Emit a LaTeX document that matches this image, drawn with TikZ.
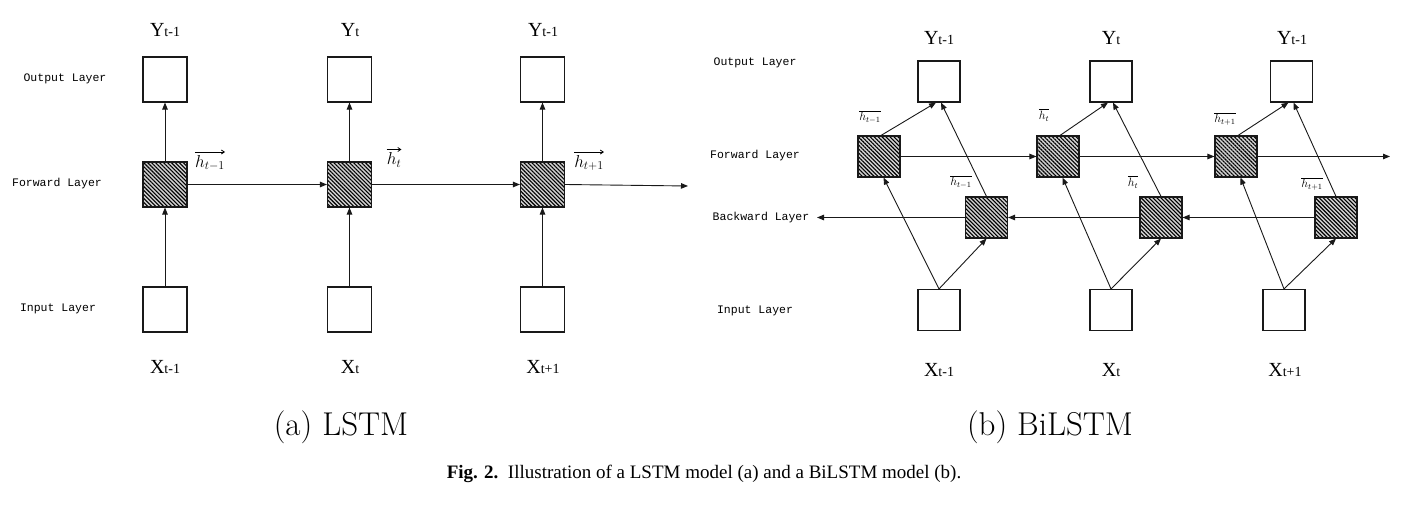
\documentclass[tikz,border=0pt]{standalone}
\usepackage{fontspec}
\newfontfamily\simfont{Liberation Serif}
\newfontfamily\layfont{Liberation Mono}
\newfontfamily\capfont{Liberation Serif}
\usetikzlibrary{arrows.meta,patterns.meta}
\newcommand\seqlab[2]{{\fontsize{20}{20}\selectfont #1}{\fontsize{14}{14}\selectfont #2}}
\tikzset{
  cell/.style={draw=black!90, line width=1.1pt, minimum width=44pt, minimum height=45pt, inner sep=0pt, fill=white},
  rcell/.style={cell, minimum width=42pt, minimum height=41pt},
  hatch/.style={preaction={fill=gray!35}, pattern={Lines[angle=-45,distance=2.8pt,line width=1.1pt]}},
  arr/.style={-{Triangle[length=7pt,width=5.5pt]}, line width=0.9pt, draw=black!90},
  vecarr/.style={-{Straight Barb[length=3pt,width=4pt]}, line width=0.8pt},
  seq/.style={font=\simfont, inner sep=0pt},
  layer/.style={font=\layfont\fontsize{11.5}{12}\selectfont, inner sep=0pt},
  hl/.style={inner sep=0pt, font=\fontsize{18}{18}\selectfont},
  hs/.style={inner sep=0pt, font=\fontsize{12}{12}\selectfont},
  sub/.style={inner sep=0pt, font=\fontsize{33}{40}\selectfont},
}
\begin{document}
\begin{tikzpicture}[x=1pt,y=-1pt]
\path[use as bounding box, fill=white] (0,0) rectangle (1414,510);

% ---------------- (a) LSTM ----------------
\node[cell] (ao1) at (165,79.5) {};
\node[cell] (ao2) at (349.5,79.5) {};
\node[cell] (ao3) at (542.5,79.5) {};
\node[cell,hatch] (af1) at (165,184.5) {};
\node[cell,hatch] (af2) at (349.5,184.5) {};
\node[cell,hatch] (af3) at (542.5,184.5) {};
\node[cell] (ai1) at (165,309.5) {};
\node[cell] (ai2) at (349.5,309.5) {};
\node[cell] (ai3) at (542.5,309.5) {};
\coordinate (aend) at (688,186);

\node[seq] (ay1) at (165,30) {\seqlab{Y}{t-1}};
\node[seq] (ay2) at (350,30) {\seqlab{Y}{t}};
\node[seq] (ay3) at (543,30) {\seqlab{Y}{t-1}};
\node[seq] (ax1) at (165,367) {\seqlab{X}{t-1}};
\node[seq] (ax2) at (350,367) {\seqlab{X}{t}};
\node[seq] (ax3) at (543,367) {\seqlab{X}{t+1}};

\node[layer] (alo) at (65,79) {Output Layer};
\node[layer] (alf) at (57,184) {Forward Layer};
\node[layer] (ali) at (58,309) {Input Layer};

\node[hl] (ah1) at (210,163) {$h_{t-1}$};
\node[hl] (ah2) at (394,160) {$h_{t}$};
\node[hl] (ah3) at (589,163) {$h_{t+1}$};
\foreach \n in {ah1,ah2,ah3}{
  \draw[vecarr] ([yshift=3pt]\n.north west) -- ([yshift=3pt]\n.north east);
}

\foreach \i in {1,2,3}{
  \draw[arr] (ai\i.north) -- (af\i.south);
  \draw[arr] (af\i.north) -- (ao\i.south);
}
\draw[arr] (af1) -- (af2);
\draw[arr] (af2) -- (af3);
\draw[arr] (af3.east) -- (aend);

% ---------------- (b) BiLSTM ----------------
\node[rcell] (bo1) at (939,81.5) {};
\node[rcell] (bo2) at (1111,81.5) {};
\node[rcell] (bo3) at (1291.5,81.5) {};
\node[rcell,hatch] (bf1) at (879,156.5) {};
\node[rcell,hatch] (bf2) at (1058,156.5) {};
\node[rcell,hatch] (bf3) at (1236,156.5) {};
\node[rcell,hatch] (bb1) at (986.5,217.5) {};
\node[rcell,hatch] (bb2) at (1161,217.5) {};
\node[rcell,hatch] (bb3) at (1336,217.5) {};
\node[rcell] (bi1) at (939,310) {};
\node[rcell] (bi2) at (1111,310) {};
\node[rcell] (bi3) at (1284,310) {};
\coordinate (fend) at (1390,156.5);
\coordinate (bend) at (817,217.5);

\node[seq] (by1) at (939,38) {\seqlab{Y}{t-1}};
\node[seq] (by2) at (1111,38) {\seqlab{Y}{t}};
\node[seq] (by3) at (1292,38) {\seqlab{Y}{t-1}};
\node[seq] (bx1) at (939,370) {\seqlab{X}{t-1}};
\node[seq] (bx2) at (1111,370) {\seqlab{X}{t}};
\node[seq] (bx3) at (1285,370) {\seqlab{X}{t+1}};

\node[layer] (blo) at (755,63) {Output Layer};
\node[layer] (blf) at (755,156) {Forward Layer};
\node[layer] (blb) at (761,218) {Backward Layer};
\node[layer] (bli) at (755,311) {Input Layer};

\node[hs] (bh1) at (870,117) {$\overline{h_{t-1}}$};
\node[hs] (bh2) at (1044,115) {$\overline{h_{t}}$};
\node[hs] (bh3) at (1225,119) {$\overline{h_{t+1}}$};
\node[hs] (bg1) at (961,182) {$\overline{h_{t-1}}$};
\node[hs] (bg2) at (1133,182) {$\overline{h_{t}}$};
\node[hs] (bg3) at (1312,184) {$\overline{h_{t+1}}$};

\foreach \i in {1,2,3}{
  \draw[arr] (bi\i.north) -- ([xshift=4.5pt]bf\i.south);
  \draw[arr] (bi\i.north) -- (bb\i.south);
  \draw[arr] ([xshift=2pt]bf\i.north) -- ([xshift=-3pt]bo\i.south);
  \draw[arr] (bb\i.north) -- ([xshift=2pt]bo\i.south);
}
\draw[arr] (bf1) -- (bf2);
\draw[arr] (bf2) -- (bf3);
\draw[arr] (bf3.east) -- (fend);
\draw[arr] (bb3) -- (bb2);
\draw[arr] (bb2) -- (bb1);
\draw[arr] (bb1.west) -- (bend);

% ---------------- captions ----------------
\node[sub] (capa) at (341,427) {(a) LSTM};
\node[sub] (capb) at (1050,427) {(b) BiLSTM};
\node[inner sep=0pt, font=\capfont\fontsize{19}{21}\selectfont] (fig) at (704,474)
  {\textbf{Fig. 2.}\enspace Illustration of a LSTM model (a) and a BiLSTM model (b).};
\end{tikzpicture}
\end{document}
